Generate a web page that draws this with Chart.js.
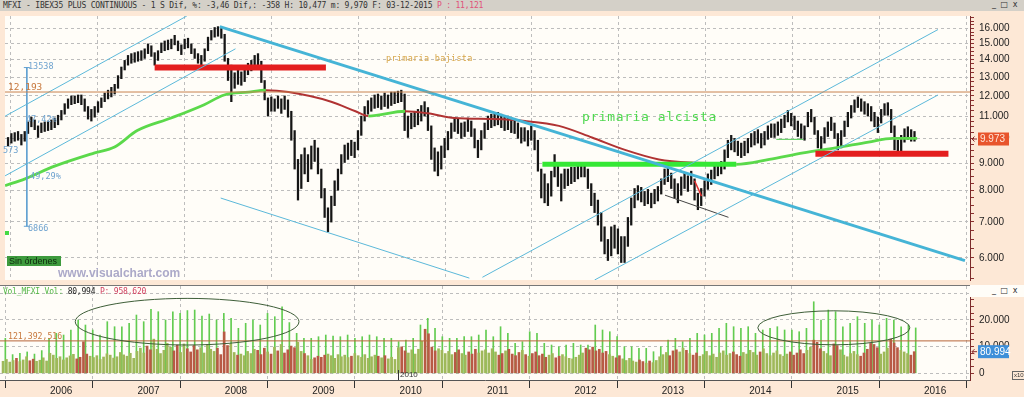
<!DOCTYPE html>
<html>
<head>
<meta charset="utf-8">
<script src="https://cdn.jsdelivr.net/npm/chart.js@4.4.0/dist/chart.umd.min.js"></script>
<style>
  html, body { margin: 0; padding: 0; }
  body { width: 1024px; height: 397px; position: relative; overflow: hidden; background: #FDE8D6; font-family: 'DejaVu Sans Mono', monospace; }
  canvas { display: block; }
  .abs { position: absolute; white-space: nowrap; }
  .mono { font-family: 'DejaVu Sans Mono', monospace; }
  .btns { font-family: 'DejaVu Sans', sans-serif; font-size: 8px; color: #333; letter-spacing: 1px; }
</style>
</head>
<body>
<div class="abs" style="left:0;top:0;width:1024px;height:11px;background:#D4D0C8;"></div>
<div class="abs mono" style="left:3px;top:1px;font-size:8px;line-height:10px;color:#333;letter-spacing:-0.2px;">MFXI - IBEX35 PLUS CONTINUOUS -  1 S Dif, %: -3,46 Dif,: -358 H: 10,477 m: 9,970 F: 03-12-2015 <span style="color:#E0507A">P : 11,121</span></div>
<div class="abs btns" style="left:992px;top:0px;">_ &#9633; x</div>

<div class="abs" style="left:0;top:11px;"><canvas id="priceCanvas" width="1024" height="274"></canvas></div>
<div class="abs" style="left:0;top:286px;"><canvas id="volCanvas" width="1024" height="111"></canvas></div>

<div class="abs" style="left:0;top:285px;width:970px;height:1px;background:#777;"></div>
<div class="abs" style="left:970px;top:285px;width:54px;height:12px;background:#FFFDF8;"></div>
<div class="abs btns" style="left:992px;top:286px;">_ &#9633; x</div>

<!-- price panel texts -->
<div class="abs mono" style="left:8px;top:81px;font-size:9.5px;color:#C8783C;">12,193</div>
<div class="abs mono" style="left:28px;top:61px;font-size:8.5px;color:#6FA3CF;">13538</div>
<div class="abs mono" style="left:28px;top:223px;font-size:8.5px;color:#6FA3CF;">6866</div>
<div class="abs mono" style="left:26px;top:114px;font-size:8.5px;color:#6FA3CF;">47,42%</div>
<div class="abs mono" style="left:25px;top:171px;font-size:8.5px;color:#6FA3CF;">-49,29%</div>
<div class="abs mono" style="left:3px;top:145px;font-size:8.5px;color:#6FA3CF;">573</div>
<div class="abs mono" style="left:386px;top:53px;font-size:8.5px;color:#D6A446;letter-spacing:0.3px;">primaria bajista</div>
<div class="abs mono" style="left:582px;top:109px;font-size:13px;color:#4FD84F;letter-spacing:0.6px;">primaria alcista</div>
<div class="abs" style="left:5px;top:231px;width:4px;height:4px;background:#45DA45;"></div>
<div class="abs" style="left:7px;top:256px;width:54px;height:10px;background:#3E9B3E;font-family:'Liberation Sans',sans-serif;font-size:9px;line-height:10px;color:#0E2A0E;padding-left:2px;box-sizing:border-box;">Sin órdenes</div>
<div class="abs" style="left:58px;top:266px;font-family:'Liberation Sans',sans-serif;font-weight:bold;font-size:12px;color:#ACA9C9;">www.visualchart.com</div>

<!-- volume panel texts -->
<div class="abs mono" style="left:3px;top:287px;font-size:8px;line-height:10px;letter-spacing:-0.2px;"><span style="color:#55B848">Vol_MFXI Vol:</span> <span style="color:#222">80,994</span> <span style="color:#D04060">P: 958,620</span></div>
<div class="abs mono" style="left:8px;top:331px;font-size:8.2px;color:#C8783C;">121,392,516</div>
<div class="abs" style="left:398px;top:370px;width:1px;height:10px;background:#333;"></div>
<div class="abs" style="left:400px;top:370px;font-family:'Liberation Sans',sans-serif;font-size:8px;color:#333;">2010</div>
<div class="abs" style="left:1012px;top:371px;font-family:'Liberation Sans',sans-serif;font-size:6px;line-height:7px;color:#333;border:1px solid #666;padding:0 1px;">x10</div>

<script>
// weekly-ish IBEX35 bars (one bar every two weeks)
const highs = [
  10040, 10210, 10250, 10300, 10170, 10300, 10730, 10950, 10820, 10550,
  10680, 10730, 10770, 10820, 10910, 11040, 11270, 11600, 11840, 11990,
  11990, 12040, 12040, 11840, 11460, 11320, 11460, 11700, 11890, 12140,
  12290, 12440, 12600, 13080, 13570, 13960, 14260, 14370, 14430, 14490,
  14550, 14670, 14980, 14860, 14430, 14550, 15040, 15170, 15230, 15290,
  15540, 15170, 14920, 15290, 15350, 14980, 14670, 14370, 14260, 14670,
  15420, 15870, 16070, 16130, 16000, 15610, 14080, 13680, 13240, 13400,
  13290, 13510, 13790, 13960, 14260, 14370, 13910, 12810, 11890, 11940,
  11840, 11990, 11840, 11990, 11790, 11230, 10340, 9140, 9330, 9600,
  9330, 9680, 9920, 9600, 8770, 8070, 7430, 7810, 8340, 8770,
  9330, 9720, 9800, 9920, 9840, 10340, 11000, 11460, 11750, 11890,
  12040, 12090, 11990, 12140, 12040, 12190, 12190, 12240, 12290, 12090,
  11000, 11130, 11230, 11320, 11510, 11700, 11410, 10550, 9600, 9440,
  9680, 10000, 10300, 10680, 10910, 10860, 10680, 10730, 10910, 10770,
  10420, 9920, 10340, 10680, 11000, 11090, 11130, 11180, 11090, 10950,
  11000, 10860, 10820, 10680, 10470, 10470, 10340, 10550, 10340, 9920,
  8770, 8590, 8240, 8690, 9330, 8950, 8590, 8770, 8770, 8840,
  8840, 8950, 8910, 8990, 8770, 8240, 7910, 7680, 7280, 6850,
  6490, 6850, 6900, 6790, 6570, 6570, 7130, 7750, 8070, 8170,
  8110, 7970, 8040, 7910, 8040, 8140, 8410, 8770, 8840, 8620,
  8410, 8240, 8480, 8620, 8520, 8690, 8410, 7910, 8070, 8340,
  8590, 8730, 8950, 8990, 9060, 9520, 9920, 10130, 10000, 9880,
  9800, 9880, 10000, 10210, 10300, 10380, 10210, 10300, 10550, 10640,
  10640, 10730, 10860, 11040, 11270, 11130, 11000, 10770, 10640, 10550,
  11180, 11320, 10950, 10340, 10080, 10470, 10730, 10950, 10680, 10210,
  10340, 10770, 11180, 11510, 11790, 11940, 11840, 11700, 11600, 11460,
  11180, 10950, 11320, 11600, 11650, 11320, 10550, 9920, 10130, 10420,
  10510, 10380, 10300
];
const lows = [
  9680, 9800, 9880, 9920, 9720, 9880, 10210, 10510, 10380, 10040,
  10250, 10300, 10340, 10380, 10470, 10600, 10820, 11090, 11370, 11550,
  11600, 11650, 11550, 11230, 10860, 10770, 10950, 11180, 11410, 11700,
  11840, 11940, 12090, 12390, 12910, 13400, 13680, 13790, 13850, 13910,
  13960, 14080, 14370, 14200, 13680, 13960, 14430, 14550, 14610, 14670,
  14920, 14550, 14310, 14670, 14730, 14370, 14080, 13790, 13620, 13910,
  14550, 15230, 15420, 15480, 15350, 13910, 12810, 11700, 12390, 12600,
  12550, 12750, 13130, 13350, 13570, 13620, 12700, 11790, 11000, 11230,
  11230, 11370, 11130, 11320, 10950, 9920, 8770, 7680, 8070, 8590,
  8310, 8770, 9060, 8590, 7750, 7130, 6710, 6990, 7500, 8010,
  8590, 9020, 9140, 9290, 9210, 9520, 10130, 10770, 11090, 11230,
  11370, 11410, 11320, 11460, 11370, 11510, 11600, 11650, 11700, 10340,
  10040, 10420, 10510, 10600, 10770, 11000, 10340, 9140, 8690, 8520,
  8770, 9210, 9520, 10000, 10300, 10210, 10000, 10080, 10300, 10080,
  9600, 9210, 9520, 10000, 10380, 10470, 10550, 10600, 10470, 10340,
  10380, 10250, 10210, 10000, 9800, 9880, 9680, 9920, 9520, 8690,
  7750, 7590, 7500, 7810, 8480, 8140, 7650, 8070, 8170, 8240,
  8310, 8410, 8480, 8480, 8070, 7500, 7280, 6900, 6440, 6100,
  5930, 6050, 6250, 6100, 5880, 5880, 6300, 6900, 7430, 7680,
  7620, 7500, 7560, 7430, 7560, 7650, 7880, 8210, 8310, 8070,
  7750, 7590, 7840, 8070, 7970, 8210, 7680, 7370, 7500, 7810,
  8040, 8210, 8410, 8520, 8590, 8770, 9210, 9520, 9440, 9290,
  9210, 9290, 9400, 9640, 9720, 9800, 9600, 9720, 9960, 10040,
  10040, 10130, 10250, 10470, 10730, 10550, 10380, 10080, 10000, 9920,
  10510, 10730, 10170, 9600, 9400, 9800, 10080, 10340, 10000, 9520,
  9600, 10080, 10510, 10910, 11180, 11410, 11230, 11090, 11000, 10770,
  10510, 10250, 10680, 11040, 11040, 10250, 9520, 9290, 9440, 9840,
  9960, 9880, 9880
];
// volume per bar (axis units), and the monthly expiry spikes
const volumes = [
  4500, 5200, 4200, 4800, 5600, 4400, 5000, 6200, 4700, 5300, 4500, 4900, 5800, 4600,
  7500, 6800, 5600, 6200, 5000, 5800, 6500, 7100, 5400, 6000, 11800, 7200, 6400, 5900, 6600, 5200, 6100, 7300, 6800, 5700, 6200, 7800, 6900, 6400, 7500, 5600,
  8200, 9400, 7600, 10200, 8800, 12800, 9000, 7400, 8600, 11200, 9800, 8400, 10600, 7800, 11000, 9200, 8000, 10400, 8800, 9600, 7600, 10800, 9000, 8200, 9400, 7000,
  15500, 10400, 11000, 7800, 6800, 7200, 6600, 8200, 7400, 9000, 8600, 7000, 9400, 8000, 7200, 9800, 8400, 10800, 7600, 8800, 10200, 9600, 11600, 8200, 7400, 6600,
  5200, 5800, 6400, 6000, 6800, 7200, 6600, 5600, 7000, 6200, 6800, 5900, 6400, 7400, 6600, 6000, 7000, 5600, 6200, 6800, 6400, 5800, 6600, 5400, 6000, 5200,
  9600, 9900, 8400, 7600, 8800, 7200, 9000, 12000, 16500, 14800, 9800, 8400, 9200, 8600, 7400, 8200, 7000, 7800, 8800, 7400, 6800, 8000, 7200, 9000, 7600, 8400,
  8800, 7600, 9200, 8000, 6800, 7400, 8400, 9000, 7200, 6600, 7800, 8600, 7000, 6400, 7400, 8000, 6600, 7200, 6000, 6800, 7400, 5800, 6400, 7000, 6200, 5600,
  5400, 6000, 6800, 7600, 9400, 8800, 9800, 8400, 9000, 7600, 8200, 7000, 6400, 5800, 6600, 5400, 4800, 5600, 4600, 4200, 5000, 4400, 3800, 4600, 4000, 4800,
  6200, 7000, 7800, 6600, 8400, 8800, 8000, 9400, 8600, 7400, 6800, 7600, 6400, 7000, 8200, 6600, 7200, 6000, 7600, 8400, 6800, 7400, 8000, 7000, 6400, 7800,
  7200, 8600, 7800, 6800, 8000, 9200, 7400, 6600, 7600, 8400, 7000, 6400, 7200, 8000, 6800, 7600, 8800, 7400, 8600, 9800, 12400, 11600, 9200, 8200, 7400, 6600,
  11000, 10400, 8800, 6800, 6200, 7400, 8200, 7000, 6400, 7600, 9000, 11200, 10800, 9600, 7200, 8000, 9400, 12800, 11400, 9600, 8600, 8000, 7400, 6800, 8100
];
const spikeVolumes = [
  13110, 7000, 7500, 8000, 7200, 8500,
  13110, 14980, 14340, 16220, 19960, 18090, 16220, 14340, 19330, 17450, 17450, 18730,
  21830, 19330, 23970, 23070, 19960, 23070, 22450, 23500, 23700, 21450, 22200, 19960,
  22450, 20600, 16850, 18730, 19960, 18090, 22450, 21200, 24940, 19000, 14980, 13110,
  13110, 13710, 14340, 13960, 13710, 14340, 13110, 13710, 14340, 13710, 13110, 13110,
  11840, 12470, 13110, 18090, 20600, 16850, 13710, 13110, 13110, 13710, 13710, 14340,
  16220, 13710, 17450, 14980, 11240, 11840, 15580, 14980, 11240, 10600, 9960, 10600,
  11240, 10600, 10600, 18090, 16220, 15580, 13710, 9960, 9960, 9360, 9360, 8090,
  9960, 12470, 13110, 11840, 13110, 14980, 14340, 14980, 16850, 18730, 17450, 16850,
  17450, 14980, 16220, 16850, 17450, 16220, 16220, 15580, 16850, 26800, 19960, 23700,
  23070, 17450, 18730, 21200, 18730, 19960, 18090, 20600, 19960, 17450, 18090, 17000
];
const firstBarYear = 2005.474;
const barStepYears = 14 / 365.25;
const firstSpikeYear = 2005.5;
const barDates = highs.map((_, i) => firstBarYear + i * barStepYears);
const spikeDates = spikeVolumes.map((_, k) => firstSpikeYear + k / 12);

// moving average, coloured green above price and red below
const maDates = [2005.44, 2005.67, 2006.01, 2006.47, 2006.70, 2006.96, 2007.35, 2007.73, 2007.96, 2008.24, 2008.44,
  2008.70, 2009.19, 2009.47, 2009.62, 2010.04, 2010.30, 2010.61, 2011.05, 2011.42, 2011.81, 2012.19, 2012.57,
  2012.96, 2013.33, 2013.71, 2013.85, 2014.23, 2014.62, 2014.99, 2015.37, 2015.65, 2015.93];
const maValues = [8170, 8410, 8880, 9400, 9640, 10340, 10910, 11550, 12040, 12190, 12290,
  12190, 11700, 11230, 11000, 11230, 11130, 10910, 10860, 10770, 10550, 10040, 9520,
  9140, 9020, 8990, 8950, 9140, 9400, 9600, 9840, 10000, 10000];
const maAbove = [1, 1, 1, 1, 1, 1, 1, 1, 1, 1, 0, 0, 0, 0, 1, 0, 0, 0, 0, 0, 0, 0, 0, 0, 0, 0, 1, 1, 1, 1, 1, 1];

// hand drawn studies [year, price]
const downTrend = [[2007.91, 16130], [2016.48, 5926]];
const channelTopLeft = [[2005.44, 10996], [2007.53, 16880]];
const channelBottomLeft = [[2005.44, 8520], [2008.09, 14670]];
const channelDown = [[2007.92, 7747], [2010.78, 5500]];
const channelTopRight = [[2010.93, 5520], [2016.17, 15930]];
const channelBottomRight = [[2012.22, 5456], [2016.17, 12040]];
const miniChannel = [[2013.03, 7843], [2013.76, 7134]];
const miniRed = [[2013.37, 8340], [2013.45, 7810]];
const resistance2008 = [[2007.16, 13538], [2009.13, 13538]];
const support2015 = [[2014.76, 9360], [2016.29, 9360]];
const breakout2013 = [[2011.62, 8950], [2013.85, 8950]];
const flat2014 = [[2014.31, 9960], [2014.62, 9960]];
const level12193 = 12193;
const measure = [[2005.69, 13538], [2005.69, 6866]];
const lastPrice = 9973;

const volumeLevel = 12139;
const volumeTag = '80.994';
const volumeEllipses = [[2007.58, 19330, 1.28, 8730], [2014.98, 17040, 0.87, 6370]];

const yearTicks = [2006, 2007, 2008, 2009, 2010, 2011, 2012, 2013, 2014, 2015, 2016];
const priceTicks = [];
for (let v = 5500; v <= 16750; v += 250) priceTicks.push(v);
const volTicks = [];
for (let v = 0; v <= 30000; v += 2500) volTicks.push(v);

const xMin = 2005.439, xMax = 2016.538;
const priceMin = 5456, priceMax = 16880;
const volMin = -2510, volMax = 32700;

const tickFont = { family: "'Liberation Sans Narrow', 'Liberation Sans', Arial, sans-serif", size: 10 };
const gridGrey = '#BDBDBD';

function fmtThousands(v) {
  const s = String(Math.round(v));
  return s.length > 3 ? s.slice(0, -3) + '.' + s.slice(-3) : s;
}
const pts = arr => arr.map(([x, y]) => ({ x, y }));
function study(arr, color, width, extra) {
  return Object.assign({ type: 'line', data: pts(arr), borderColor: color, borderWidth: width,
    pointRadius: 0, fill: false, order: 1 }, extra || {});
}

const panelBg = {
  id: 'panelBg',
  beforeDraw(chart) {
    const { ctx, chartArea: a } = chart;
    ctx.save();
    ctx.fillStyle = '#FDE8D6';
    ctx.fillRect(0, 0, chart.width, chart.height);
    ctx.fillStyle = '#FFFDF8';
    ctx.fillRect(a.left, a.top, a.right - a.left, a.bottom - a.top);
    ctx.restore();
  }
};

function drawTag(chart, y, text, fill, textColor) {
  const { ctx, chartArea: a } = chart;
  ctx.save();
  ctx.strokeStyle = '#8A2B2B';
  ctx.lineWidth = 1;
  ctx.beginPath();
  ctx.moveTo(a.right + 2, y); ctx.lineTo(a.right + 7, y);
  ctx.moveTo(a.right + 4.5, y - 2.5); ctx.lineTo(a.right + 2, y); ctx.lineTo(a.right + 4.5, y + 2.5);
  ctx.stroke();
  ctx.fillStyle = fill;
  ctx.fillRect(a.right + 8, y - 6.5, 31, 13);
  ctx.fillStyle = textColor;
  ctx.font = "10px 'Liberation Sans Narrow', 'Liberation Sans', sans-serif";
  ctx.textBaseline = 'middle';
  ctx.fillText(text, a.right + 10, y + 0.5);
  ctx.restore();
}

const lastPriceTag = {
  id: 'lastPriceTag',
  afterDraw(chart) {
    drawTag(chart, chart.scales.y.getPixelForValue(lastPrice), fmtThousands(lastPrice), '#E8542C', '#FFE4D6');
  }
};
const volumeDecor = {
  id: 'volumeDecor',
  afterDatasetsDraw(chart) {
    const { ctx, scales: { x, y } } = chart;
    ctx.save();
    ctx.strokeStyle = '#3E5E38';
    ctx.lineWidth = 1;
    volumeEllipses.forEach(([cxv, cyv, rxv, ryv]) => {
      const cx = x.getPixelForValue(cxv), cy = y.getPixelForValue(cyv);
      const rx = x.getPixelForValue(cxv + rxv) - cx, ry = cy - y.getPixelForValue(cyv + ryv);
      ctx.beginPath();
      ctx.ellipse(cx, cy, rx, ry, 0, 0, Math.PI * 2);
      ctx.stroke();
    });
    ctx.restore();
  },
  afterDraw(chart) {
    drawTag(chart, chart.scales.y.getPixelForValue(volumes[volumes.length - 1]), volumeTag, '#3D8FD9', '#FFFFFF');
  }
};

const xGrid = { color: gridGrey, drawTicks: false };

new Chart(document.getElementById('priceCanvas'), {
  type: 'bar',
  data: {
    datasets: [
      { type: 'bar', data: barDates.map((x, i) => ({ x, y: [lows[i], highs[i]] })), backgroundColor: '#151515',
        barThickness: 1.6, grouped: false, order: 10 },
      { type: 'line', data: maDates.map((x, i) => ({ x, y: maValues[i] })), borderColor: '#5BD94B', borderWidth: 2.5,
        pointRadius: 0, cubicInterpolationMode: 'monotone', order: 3,
        segment: {
          borderColor: c => maAbove[c.p0DataIndex] ? '#5BD94B' : '#B03232',
          borderWidth: c => maAbove[c.p0DataIndex] ? 2.8 : 2
        } },
      study([[xMin, level12193], [xMax, level12193]], '#C8824F', 1),
      study(channelTopLeft, '#5CB9DA', 1),
      study(channelBottomLeft, '#5CB9DA', 1),
      study(channelDown, '#5CB9DA', 1),
      study(channelTopRight, '#5CB9DA', 1),
      study(channelBottomRight, '#5CB9DA', 1),
      study(miniChannel, '#444444', 1),
      study(miniRed, '#E03030', 1.5),
      study(flat2014, '#4CC84C', 1),
      study(downTrend, '#45B4D6', 3),
      study(resistance2008, '#E41E1E', 6),
      study(support2015, '#E41E1E', 6),
      study(breakout2013, '#35E835', 5),
      study(measure, '#5F9FD0', 1, { pointRadius: 3, pointStyle: 'line', pointBorderColor: '#5F9FD0', pointBorderWidth: 1 })
    ]
  },
  options: {
    responsive: false,
    animation: false,
    devicePixelRatio: 1,
    layout: { padding: 0 },
    plugins: { legend: { display: false }, tooltip: { enabled: false } },
    scales: {
      x: {
        type: 'linear', min: xMin, max: xMax, offset: false,
        afterBuildTicks: s => { s.ticks = yearTicks.map(v => ({ value: v })); },
        afterFit: s => { s.height = 0; s.paddingLeft = 0; s.paddingRight = 0; },
        ticks: { display: false },
        grid: xGrid,
        border: { display: false, dash: [3, 3] }
      },
      y: {
        type: 'logarithmic', position: 'right', min: priceMin, max: priceMax,
        afterBuildTicks: s => { s.ticks = priceTicks.map(v => ({ value: v })); },
        afterFit: s => { s.width = 54; s.paddingTop = 0; s.paddingBottom = 0; },
        ticks: { autoSkip: false, color: '#222', font: tickFont, padding: 5,
          callback: v => (v % 1000 === 0 ? fmtThousands(v) : '') },
        grid: { color: c => (c.tick && c.tick.value % 1000 === 0 ? gridGrey : 'rgba(0,0,0,0)'),
          tickColor: '#8B3030', tickLength: 4 },
        border: { display: true, color: '#7A2A2A', dash: [3, 3] }
      }
    }
  },
  plugins: [panelBg, lastPriceTag]
});

const upColor = '#9FB85A', downColor = '#B85A45';
const volColors = volumes.map((_, i) =>
  (i > 0 && highs[i] + lows[i] < highs[i - 1] + lows[i - 1]) ? downColor : upColor);

new Chart(document.getElementById('volCanvas'), {
  type: 'bar',
  data: {
    datasets: [
      { type: 'bar', data: spikeDates.map((x, i) => ({ x, y: spikeVolumes[i] })), backgroundColor: '#62CC50',
        barThickness: 1, grouped: false, order: 3 },
      { type: 'bar', data: barDates.map((x, i) => ({ x, y: volumes[i] })), backgroundColor: volColors,
        barThickness: 2, grouped: false, order: 2 },
      study([[xMin, volumeLevel], [xMax, volumeLevel]], '#B8663A', 1, { order: 0 })
    ]
  },
  options: {
    responsive: false,
    animation: false,
    devicePixelRatio: 1,
    layout: { padding: 0 },
    plugins: { legend: { display: false }, tooltip: { enabled: false } },
    scales: {
      x: {
        type: 'linear', min: xMin, max: xMax, offset: false,
        afterBuildTicks: s => { s.ticks = yearTicks.map(v => ({ value: v })); },
        afterFit: s => { s.height = 17; s.paddingLeft = 0; s.paddingRight = 0; },
        ticks: { align: 'start', labelOffset: 1, padding: -3, autoSkip: false, maxRotation: 0,
          color: '#222', font: tickFont, callback: v => String(v) },
        grid: { color: gridGrey, tickColor: '#333', tickLength: 8 },
        border: { display: true, color: '#555', dash: [3, 3] }
      },
      y: {
        position: 'right', min: volMin, max: volMax,
        afterBuildTicks: s => { s.ticks = volTicks.map(v => ({ value: v })); },
        afterFit: s => { s.width = 54; s.paddingTop = 0; s.paddingBottom = 0; },
        ticks: { autoSkip: false, color: '#222', font: tickFont, padding: 5,
          callback: v => (v % 10000 === 0 && v <= 20000 ? fmtThousands(v) : '') },
        grid: { color: c => (c.tick && c.tick.value % 10000 === 0 ? gridGrey : 'rgba(0,0,0,0)'),
          tickColor: '#8B3030', tickLength: 4 },
        border: { display: true, color: '#7A2A2A', dash: [3, 3] }
      }
    }
  },
  plugins: [panelBg, volumeDecor]
});
</script>
</body>
</html>
